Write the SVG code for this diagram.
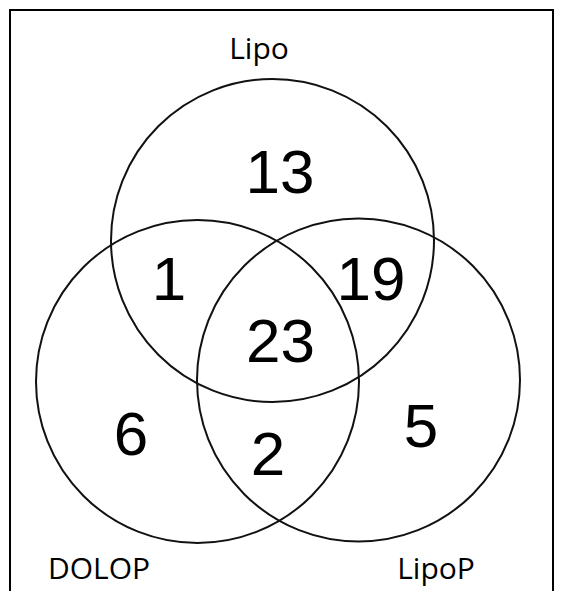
<svg xmlns="http://www.w3.org/2000/svg" width="568" height="591" viewBox="0 0 568 591">
<style>
.set{fill:none;stroke:#111;stroke-width:2}
.frame{fill:none;stroke:#000;stroke-width:2}
.num{font-family:"Liberation Sans",Arial,sans-serif;font-size:62px;fill:#000;text-anchor:middle}
.lbl{font-family:"Open Sans","Liberation Sans",sans-serif;font-size:30px;fill:#000;text-anchor:middle}
</style>
<rect width="568" height="591" fill="#fff"/>
<path class="frame" d="M10,591 V10 H553 V591"/>
<g id="lipo">
<circle class="set" cx="272.5" cy="240.5" r="161.5"/>
<text class="lbl" x="259" y="59">Lipo</text>
</g>
<g id="dolop">
<circle class="set" cx="197.5" cy="381.5" r="161.5"/>
<text class="lbl" x="99" y="579">DOLOP</text>
</g>
<g id="lipop">
<circle class="set" cx="358.5" cy="380" r="161.5"/>
<text class="lbl" x="436" y="579">LipoP</text>
</g>
<g id="counts">
<text class="num" x="280" y="193">13</text>
<text class="num" x="169" y="300">1</text>
<text class="num" x="371" y="300">19</text>
<text class="num" x="280.5" y="362">23</text>
<text class="num" x="131" y="455">6</text>
<text class="num" x="268" y="475">2</text>
<text class="num" x="421" y="447">5</text>
</g>
</svg>
